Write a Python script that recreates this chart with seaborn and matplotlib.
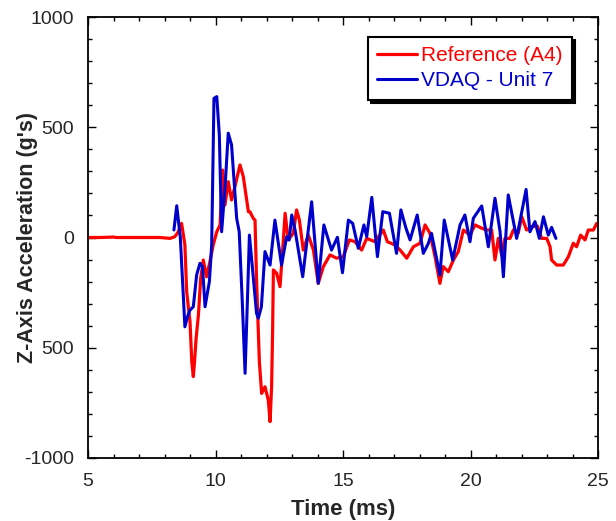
import matplotlib
matplotlib.use("Agg")
import matplotlib.pyplot as plt
import seaborn as sns
import pandas as pd
from matplotlib.ticker import MultipleLocator, FixedLocator, FixedFormatter

# ---- data ----
ref_t = [5.0, 5.5, 6.0, 6.1, 6.5, 7.0, 7.5, 7.82, 8.22, 8.41, 8.54, 8.67, 8.80, 8.87, 9.0, 9.07,
         9.13, 9.18, 9.24, 9.33, 9.42, 9.52, 9.65, 9.78, 9.91, 10.05, 10.18, 10.28, 10.37, 10.50,
         10.63, 10.76, 10.96, 11.09, 11.29, 11.35, 11.48, 11.55, 11.61, 11.72, 11.81, 11.94, 12.07,
         12.14, 12.20, 12.24, 12.27, 12.40, 12.53, 12.66, 12.73, 12.85, 13.05, 13.18, 13.29, 13.44,
         13.64, 13.84, 14.03, 14.23, 14.49, 14.75, 15.01, 15.25, 15.47, 15.73, 15.93, 16.25, 16.58,
         16.74, 17.04, 17.24, 17.50, 17.76, 18.02, 18.22, 18.41, 18.61, 18.80, 18.93, 19.13, 19.33,
         19.52, 19.72, 19.98, 20.18, 20.44, 20.64, 20.83, 20.96, 21.09, 21.22, 21.35, 21.55, 21.68,
         21.87, 22.01, 22.20, 22.40, 22.62, 22.79, 22.99, 23.12, 23.18, 23.38, 23.64, 23.84, 24.03,
         24.16, 24.32, 24.49, 24.62, 24.82, 24.95, 25.0]
ref_g = [0, 0, 2, 0, 0, 0, 0, 0, -4, 4, 26, 64, -34, -246, -382, -563,
         -631, -560, -457, -351, -185, -102, -178, -110, -34, 26, 57, 306, 147, 253,
         170, 230, 329, 276, 117, 117, 87, 79, -193, -563, -707, -677, -737,
         -835, -677, -420, -147, -163, -223, -11, 110, -11, 19, 125, 79, -57,
         11, -57, -208, -132, -79, -94, -87, -11, -19, -57, -4, -19, 34,
         -19, -34, -57, -94, -42, -26, 57, 19, -87, -208, -132, -155, -102,
         -64, 34, 11, 57, 42, 34, 34, -102, -4, -79, -4, -4, 34,
         19, 94, 34, 49, 52, -4, -4, -42, -102, -125, -125, -87, -26,
         -42, 11, -11, 34, 34, 64, 60]

vdaq_t = [8.37, 8.48, 8.62, 8.80, 8.90, 9.0, 9.13, 9.26, 9.39, 9.49, 9.59, 9.76, 9.85, 9.94,
          10.05, 10.15, 10.24, 10.38, 10.50, 10.63, 10.83, 10.93, 11.05, 11.16, 11.25, 11.33,
          11.45, 11.61, 11.68, 11.80, 11.94, 12.14, 12.33, 12.59, 12.79, 12.89, 12.99, 13.12,
          13.42, 13.77, 14.03, 14.25, 14.55, 14.78, 14.98, 15.21, 15.38, 15.60, 15.82, 15.93,
          16.13, 16.35, 16.56, 16.82, 17.10, 17.27, 17.47, 17.63, 17.91, 18.15, 18.35, 18.47,
          18.80, 18.97, 19.30, 19.59, 19.78, 19.98, 20.11, 20.44, 20.70, 20.96, 21.16, 21.29,
          21.48, 21.81, 22.18, 22.33, 22.53, 22.70, 22.86, 23.05, 23.18, 23.35]
vdaq_g = [34, 144, 0, -405, -360, -329, -314, -170, -117, -132, -314, -200, -34, 631,
          639, 465, 26, 238, 473, 420, 87, 26, -291, -616, -291, 11,
          -140, -344, -366, -314, -64, -125, 79, -125, 4, -11, 102, 34,
          -178, 162, -208, 57, -57, 1, -160, 79, 64, -49, 57, 4,
          182, -87, 117, 110, -72, 125, 42, -11, 102, -72, -26, 19,
          -170, 79, -102, 57, 102, -19, 87, 143, -42, 178, 26, -178,
          193, -4, 218, 26, 72, -4, 94, 11, 46, -4]

series_names = ["Reference (A4)", "VDAQ - Unit 7"]
y_ticks = [-1000, -500, 0, 500, 1000]
y_tick_labels = ["-1000", "500", "0", "500", "1000"]
x_ticks = [5, 10, 15, 20, 25]

ref_df = pd.DataFrame({"t": ref_t, "g": ref_g})
vdaq_df = pd.DataFrame({"t": vdaq_t, "g": vdaq_g})

# ---- style ----
sns.set_style("ticks")
plt.rcParams["font.family"] = ["Liberation Sans", "DejaVu Sans"]

fig = plt.figure(figsize=(6.16, 5.21), dpi=100)
ax = fig.add_axes([88 / 616, 1 - 458 / 521, 510 / 616, 441 / 521])

sns.lineplot(data=ref_df, x="t", y="g", ax=ax, color="#ff0000", lw=2.3,
             sort=False, estimator=None, label=series_names[0])
sns.lineplot(data=vdaq_df, x="t", y="g", ax=ax, color="#0000cc", lw=2.2,
             sort=False, estimator=None, label=series_names[1])

ax.set_xlim(5, 25)
ax.set_ylim(-1000, 1000)
ax.xaxis.set_major_locator(FixedLocator(x_ticks))
ax.xaxis.set_minor_locator(MultipleLocator(1))
ax.yaxis.set_major_locator(FixedLocator(y_ticks))
ax.yaxis.set_major_formatter(FixedFormatter(y_tick_labels))
ax.yaxis.set_minor_locator(MultipleLocator(100))
ax.tick_params(which="both", direction="in", top=True, right=True, width=1.0, color="black")
ax.tick_params(which="major", length=6, labelsize=14)
ax.tick_params(axis="y", which="major", pad=10)
ax.tick_params(axis="x", which="major", pad=11)
ax.tick_params(which="minor", length=3)
for s in ax.spines.values():
    s.set_linewidth(1.3)
    s.set_color("black")

ax.set_xlabel("Time (ms)", fontsize=16, fontweight="bold", labelpad=6)
ax.set_ylabel("Z-Axis Acceleration (g's)", fontsize=15.5, fontweight="bold")
ax.yaxis.set_label_coords(-0.098, 0.5)

leg = ax.legend(loc="upper right", bbox_to_anchor=(0.949, 0.955), fontsize=15,
                frameon=True, fancybox=False, edgecolor="black", framealpha=1,
                shadow={"color": "black", "alpha": 1}, labelcolor="linecolor",
                handlelength=1.9, handletextpad=0.2, labelspacing=0.3,
                borderpad=0.45, borderaxespad=0)
leg.get_frame().set_linewidth(1.5)

fig.savefig("out.png", dpi=100)
